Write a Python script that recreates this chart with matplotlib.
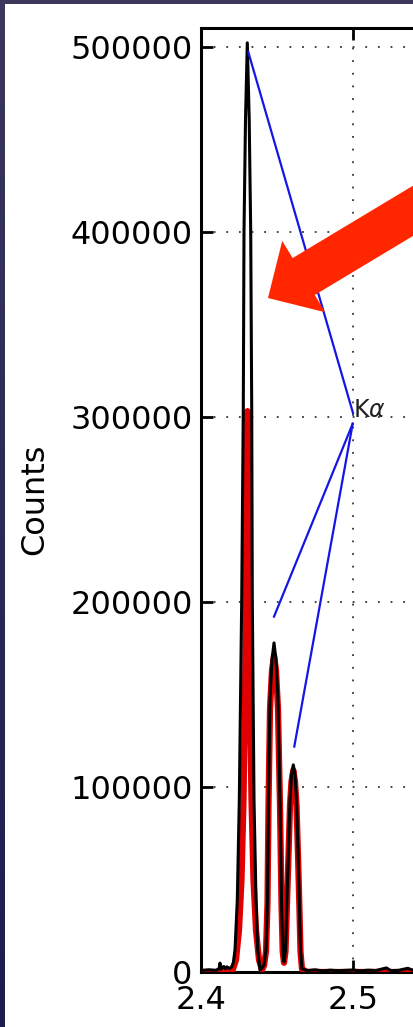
import matplotlib
matplotlib.use('Agg')
import numpy as np
import matplotlib.pyplot as plt
from matplotlib.patches import Rectangle, FancyArrowPatch, ArrowStyle
from matplotlib.colors import LinearSegmentedColormap

# measured spectrum (energy in keV, counts)
black_energy = [2.395, 2.400, 2.405, 2.410, 2.412, 2.4125, 2.413, 2.414, 2.415, 2.416, 2.417, 2.4185, 2.420,
                2.42125, 2.42237, 2.42388, 2.42520, 2.42678, 2.42783, 2.42829, 2.42928, 2.43046,
                2.43171, 2.43270, 2.43336, 2.43375, 2.43487, 2.43618, 2.43730, 2.43882, 2.44013,
                2.44145, 2.44276, 2.44375, 2.44441, 2.44539, 2.44671, 2.44803, 2.44934, 2.45066,
                2.45197, 2.45296, 2.45375, 2.45461,
                2.45559, 2.45658, 2.45757, 2.45855, 2.45954, 2.46072, 2.46184, 2.46283, 2.46382,
                2.46467, 2.46546, 2.46645,
                2.470, 2.475, 2.480, 2.485, 2.490, 2.495, 2.500, 2.505, 2.510, 2.515, 2.522,
                2.525, 2.530, 2.536, 2.540, 2.550, 2.560, 2.580, 2.600, 2.650, 2.700]
black_counts = [1000, 800, 1200, 900, 2000, 4800, 1500, 2500, 3000, 1800, 2800, 2000, 2500,
                4900, 11900, 38900, 93000, 201000, 305400, 400000, 460500, 502000,
                460500, 400000, 305400, 201000, 93000, 38900, 11900, 1100, 2200,
                3800, 11900, 38900, 93000, 147000, 168600, 177800, 168600, 147000,
                93000, 38900, 11900, 5400,
                11900, 38900, 65900, 93000, 106500, 111900, 106500, 93000, 65900,
                38900, 11900, 1600,
                800, 1200, 600, 1000, 700, 900, 1100, 600, 1000, 800, 2200,
                700, 900, 2000, 800, 1000, 700, 900, 800, 1000, 900]

# fitted model
red_energy = [2.395, 2.42039, 2.42303, 2.42500, 2.42664, 2.42796, 2.42895, 2.42961, 2.42980, 2.42993,
              2.43059, 2.43125, 2.43138, 2.43158, 2.43224, 2.43322, 2.43454, 2.43618, 2.43816, 2.44013,
              2.44145, 2.44276, 2.44375, 2.44441, 2.44539, 2.44671, 2.44803, 2.44934, 2.45066, 2.45197,
              2.45296, 2.45375, 2.45461, 2.45559, 2.45658, 2.45757, 2.45855, 2.45954, 2.46072, 2.46184,
              2.46283, 2.46382, 2.46467, 2.46546, 2.46645, 2.4700, 2.7000]
red_counts = [0, 0, 6500, 22700, 49700, 93000, 147000, 201000, 254000, 297000,
              303000, 297000, 254000, 201000, 147000, 93000, 49700, 22700, 6500, 1100,
              3500, 11000, 37000, 90000, 142000, 163000, 171000, 163000, 142000, 90000,
              37000, 11000, 5000, 11000, 37000, 63000, 90000, 103000, 109000, 103000,
              90000, 63000, 37000, 11000, 1500, 0, 0]

# K-alpha label and its leader lines
label_text = r'K$\alpha$'
label_pos = (2.5, 300000)
leader_start_x = [2.5000, 2.4998, 2.4998]
leader_start_y = [302000, 296200, 296200]
leader_end_x = [2.43112, 2.44803, 2.46138]
leader_end_y = [497000, 192000, 121800]

x_ticks = [2.4, 2.5]
y_ticks = [0, 100000, 200000, 300000, 400000, 500000]

W, H = 414, 1027
fig = plt.figure(figsize=(W / 100, H / 100), dpi=100)

# slide background: dark gradient with a white panel
bg = fig.add_axes([0, 0, 1, 1], zorder=-5)
grad = np.linspace(0, 1, 256).reshape(-1, 1)
bg_cmap = LinearSegmentedColormap.from_list('bg', ['#3b375d', '#1d1c4e'])
bg.imshow(grad, aspect='auto', cmap=bg_cmap, extent=[0, 1, 0, 1])
bg.add_patch(Rectangle((5 / W, 0), 1, 1 - 4 / H, facecolor='white', edgecolor='none'))
bg.set_xlim(0, 1)
bg.set_ylim(0, 1)
bg.axis('off')

ax_left = 201 / W
ax_bottom = (H - 972) / H
ax_height = (972 - 28) / H
ax_width = 456 / W
ax = fig.add_axes([ax_left, ax_bottom, ax_width, ax_height])
ax.set_facecolor('white')

ax.plot(red_energy, red_counts, color='#e00000', lw=4.5, solid_joinstyle='round', zorder=3)
ax.plot(black_energy, black_counts, color='black', lw=2.2, solid_joinstyle='round', zorder=4)

for x0, y0, x1, y1 in zip(leader_start_x, leader_start_y, leader_end_x, leader_end_y):
    ax.plot([x0, x1], [y0, y1], color='#1515e6', lw=1.6, zorder=5)
ax.text(label_pos[0], label_pos[1], label_text, fontsize=17, color='#222222',
        ha='left', va='baseline', zorder=6)

ax.set_xlim(2.4, 2.7)
ax.set_ylim(0, 510000)
ax.set_xticks(x_ticks)
ax.set_yticks(y_ticks)
ax.set_xticklabels([f'{v:.1f}' for v in x_ticks])
ax.set_yticklabels([str(v) for v in y_ticks])
ax.grid(True, color='#333333', linestyle=(0, (1, 6)), linewidth=1.3)
for s in ax.spines.values():
    s.set_linewidth(2.2)
ax.tick_params(direction='in', length=8.6, width=2.0, top=True, right=True, labelsize=23)
ax.tick_params(axis='y', pad=6)
ax.tick_params(axis='x', pad=9.5)

fig.text(35 / W, 1 - 499 / H, 'Counts', fontsize=23, rotation=90, ha='center', va='center')

# big pointer arrow
arrow = FancyArrowPatch(posA=(525 / W, 1 - 143.5 / H), posB=(268 / W, 1 - 298 / H),
                        transform=fig.transFigure,
                        arrowstyle=ArrowStyle.Simple(head_length=30, head_width=60, tail_width=31),
                        mutation_scale=1, shrinkA=0, shrinkB=0,
                        facecolor='#ff2600', edgecolor='none', zorder=10)
fig.add_artist(arrow)

fig.savefig('out.png', dpi=100)
